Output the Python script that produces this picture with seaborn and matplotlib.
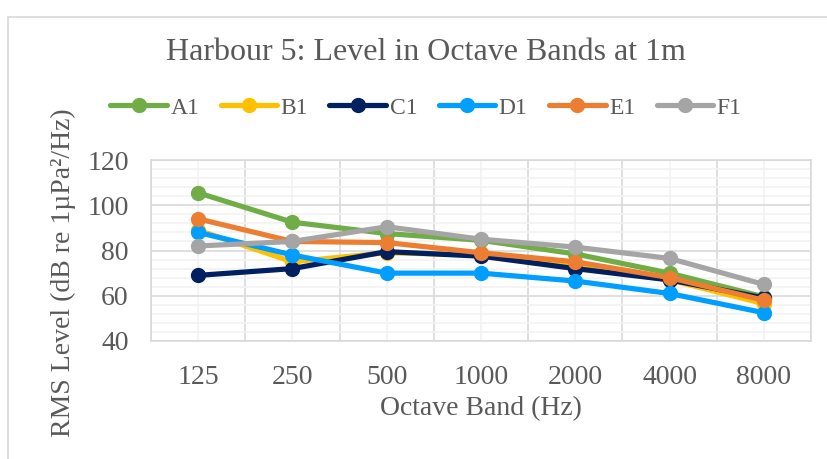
import matplotlib
matplotlib.use("Agg")
import matplotlib.pyplot as plt
from matplotlib.patches import Rectangle
from matplotlib.ticker import MultipleLocator, FixedLocator
import seaborn as sns
import pandas as pd

bands = ["125", "250", "500", "1000", "2000", "4000", "8000"]
series_names = ["A1", "B1", "C1", "D1", "E1", "F1"]
A1 = [105.5, 92.5, 87.5, 84.5, 78.5, 70.0, 59.5]
B1 = [89.0, 75.0, 79.0, 78.0, 73.0, 67.0, 56.5]
C1 = [69.0, 72.0, 79.5, 77.5, 72.0, 67.0, 59.0]
D1 = [88.0, 78.0, 70.0, 70.0, 66.5, 61.0, 52.5]
E1 = [94.0, 84.0, 83.5, 79.0, 75.0, 68.0, 58.0]
F1 = [82.0, 84.0, 90.5, 85.0, 81.5, 76.5, 65.0]
colors = ["#70AD47", "#FFC000", "#002060", "#009FFF", "#ED7D31", "#A5A5A5"]

title = "Harbour 5: Level in Octave Bands at 1m"
xlabel = "Octave Band (Hz)"
ylabel = "RMS Level (dB re 1µPa²/Hz)"

values = [A1, B1, C1, D1, E1, F1]
rows = []
for name, vals in zip(series_names, values):
    for b, v in zip(bands, vals):
        rows.append({"band": b, "level": v, "series": name})
df = pd.DataFrame(rows)

sns.set_theme(style="white")
plt.rcParams["font.family"] = ["Liberation Serif", "DejaVu Serif"]

text_col = "#595959"
fig = plt.figure(figsize=(8.28, 4.59), dpi=100)
ax = fig.add_axes([151 / 828, 1 - 341 / 459, 660 / 828, 181 / 459])

sns.lineplot(data=df, x="band", y="level", hue="series", hue_order=series_names,
             palette=colors, marker="o", markersize=11, markeredgewidth=0,
             linewidth=3.75, sort=False, ax=ax, legend=False)

ax.set_xlim(-0.5, 6.5)
ax.set_ylim(40, 120)
ax.yaxis.set_major_locator(MultipleLocator(20))
ax.yaxis.set_minor_locator(MultipleLocator(4))
ax.xaxis.set_major_locator(FixedLocator(range(len(bands))))
ax.set_xticklabels(bands)
ax.xaxis.set_minor_locator(FixedLocator([i - 0.5 for i in range(len(bands) + 1)]))

ax.grid(which="minor", color="#F2F2F2", linewidth=1.2, zorder=0)
ax.grid(which="major", axis="y", color="#D9D9D9", linewidth=1.2, zorder=0)
ax.grid(which="minor", axis="x", color="#D9D9D9", linewidth=1.2, zorder=0)
ax.grid(which="major", axis="x", color="#F2F2F2", linewidth=1.2, zorder=0)
ax.set_axisbelow(True)
for s in ax.spines.values():
    s.set_color("#D9D9D9")
    s.set_linewidth(1.2)

ax.tick_params(axis="both", which="both", length=0, labelsize=20, labelcolor=text_col)
ax.tick_params(axis="x", pad=17)
ax.tick_params(axis="y", pad=16)
ax.set_xlabel(xlabel, fontsize=20, color=text_col, labelpad=5)
ax.set_ylabel(ylabel, fontsize=20, color=text_col, labelpad=8)
ax.yaxis.label.set_y(0.38)

fig.text(426 / 828, 1 - 52 / 459, title, ha="center", va="center", fontsize=23, color=text_col)

handles = [plt.Line2D([], [], color=c, marker="o", markersize=11, markeredgewidth=0, linewidth=3.75)
           for c in colors]
fig.legend(handles, series_names, loc="center", bbox_to_anchor=(426 / 828, 1 - 108 / 459),
           ncol=6, frameon=False, fontsize=17, handlelength=2.4, handletextpad=0.15,
           columnspacing=0.9, labelcolor=text_col)

fig.patches.append(Rectangle((8 / 828, -20 / 459), 840 / 828, 462 / 459, transform=fig.transFigure,
                             fill=False, edgecolor="#D9D9D9", linewidth=1.2))

fig.savefig("out.png", dpi=100)
